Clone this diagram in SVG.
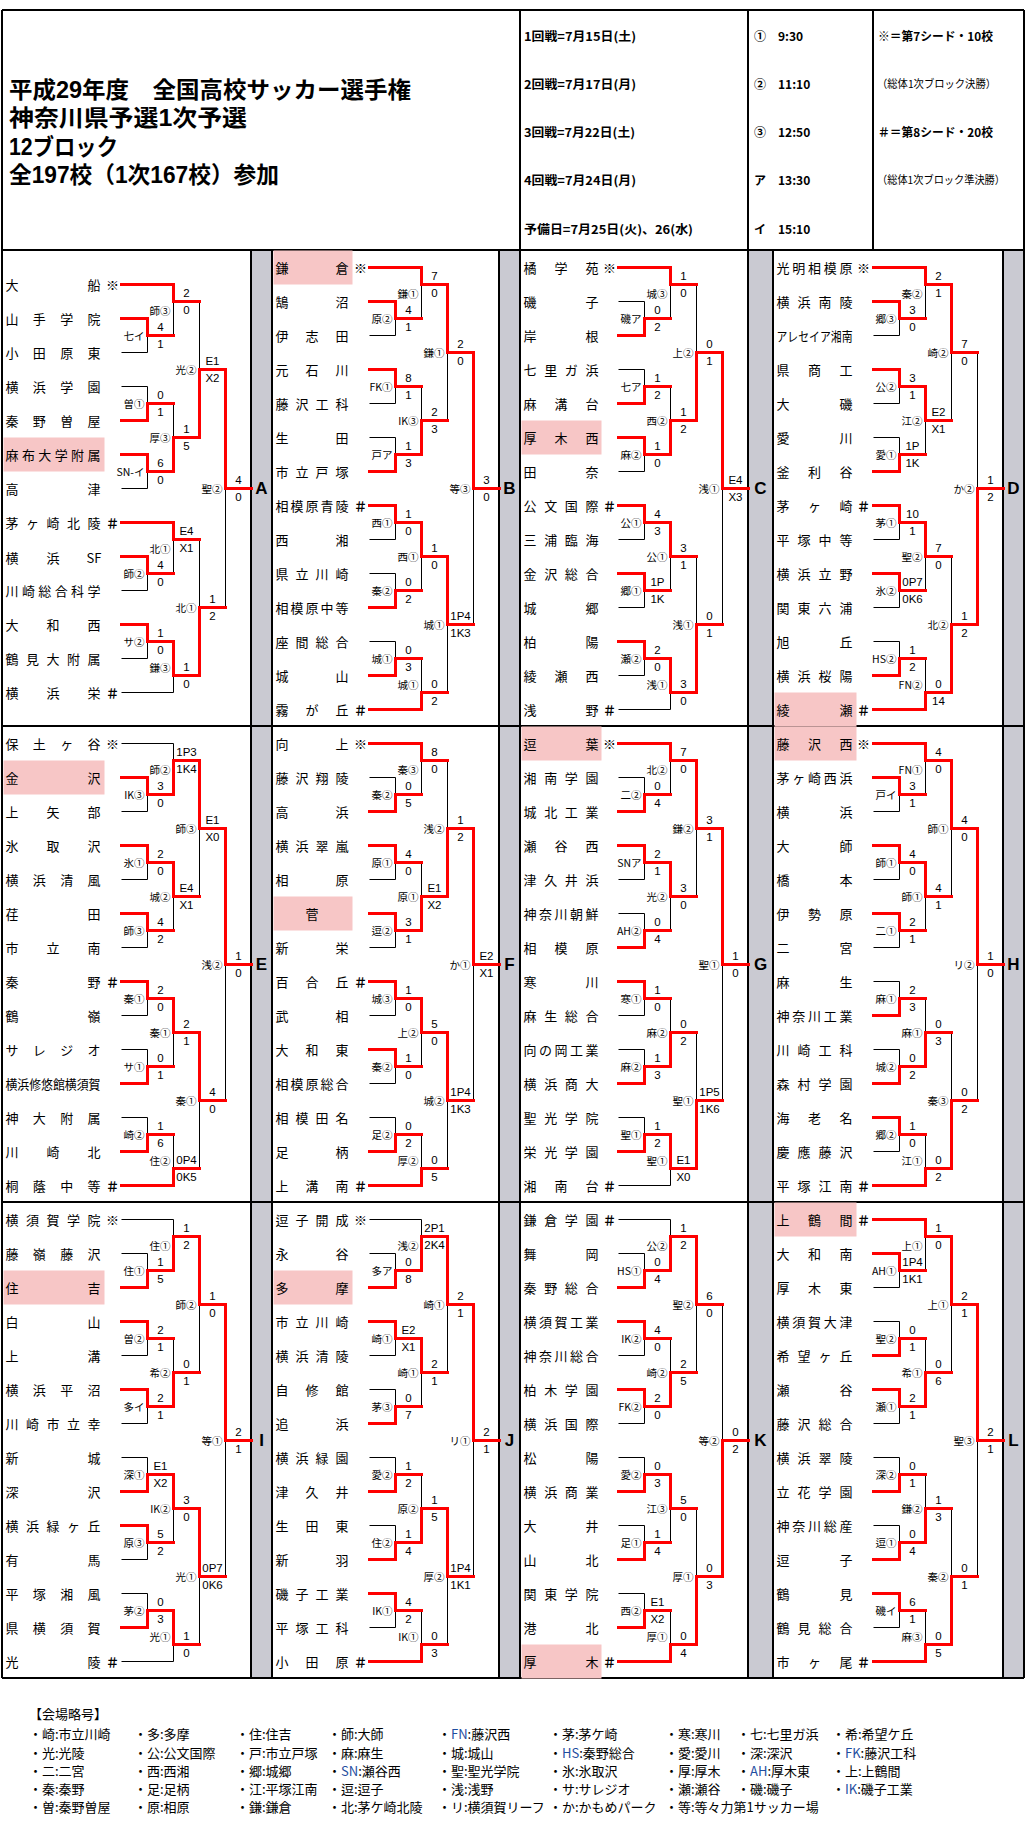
<svg xmlns="http://www.w3.org/2000/svg" width="1026" height="1831" viewBox="0 0 1026 1831">
<style>
text{font-family:"Noto Sans CJK JP","Noto Sans CJK SC",sans-serif;fill:#000}
.nm text{font-size:13px;dominant-baseline:central}
.mk{font-size:13px;font-weight:bold;text-anchor:middle;dominant-baseline:central}
.sc text{font-family:"Liberation Sans","Noto Sans CJK JP",sans-serif;font-size:11.5px;text-anchor:middle;dominant-baseline:central}
.vn text{font-size:10.5px;text-anchor:end;dominant-baseline:central}
.bk{fill:none;stroke:#000;stroke-width:1}
.rd{fill:none;stroke:#f00;stroke-width:3;stroke-linecap:square}
.pk{fill:#f7c6c6}
.gr{fill:#cacad2}
.bd{fill:none;stroke:#000;stroke-width:2}
.lt{font-family:"Liberation Sans",sans-serif;font-size:17px;font-weight:bold;text-anchor:middle;dominant-baseline:central}
.ttl{font-family:"Liberation Sans","Noto Sans CJK JP",sans-serif;font-size:23px;font-weight:bold;dominant-baseline:central}
.hd{font-size:12px;font-weight:bold;dominant-baseline:central}
.hs{font-size:11px;dominant-baseline:central}
.lg text{font-size:13px;dominant-baseline:central}
.ab{fill:#1f4ea0}
</style>
<defs>
<path id="br14" d="M0 17H52M0 51H26M0 85H26M0 119H26M0 153H26M0 187H26M0 221H26M0 255H26M0 289H26M0 323H26M0 357H26M0 391H26M0 425H26M0 459H52M26 51V85M26 68H52M26 119V153M26 136H52M26 187V221M26 204H52M26 255V289M26 272H52M26 323V357M26 340H52M26 391V425M26 408H52M52 17V68M52 34H78M52 136V204M52 170H78M52 272V340M52 306H78M52 408V459M52 442H78M78 34V170M78 102H104M78 306V442M78 374H104M104 102V374M104 238H130"/>
</defs>
<rect width="1026" height="1831" fill="#fff"/>

<g id="grid">
<rect class="gr" x="251" y="250" width="21" height="1428"/>
<rect class="gr" x="499" y="250" width="21" height="1428"/>
<rect class="gr" x="748" y="250" width="25" height="1428"/>
<rect class="gr" x="1003" y="250" width="21" height="1428"/>
<path class="bd" d="M2 10H1024M2 250H1024M2 726H1024M2 1202H1024M2 1678H1024M2 10V1678M1024 10V1678M251 250V1678M272 250V1678M499 250V1678M520 10V1678M748 10V1678M773 250V1678M1003 250V1678M873 10V250"/>
<text class="lt" x="261.5" y="488">A</text>
<text class="lt" x="509.5" y="488">B</text>
<text class="lt" x="760.5" y="488">C</text>
<text class="lt" x="1013.5" y="488">D</text>
<text class="lt" x="261.5" y="964">E</text>
<text class="lt" x="509.5" y="964">F</text>
<text class="lt" x="760.5" y="964">G</text>
<text class="lt" x="1013.5" y="964">H</text>
<text class="lt" x="261.5" y="1440">I</text>
<text class="lt" x="509.5" y="1440">J</text>
<text class="lt" x="760.5" y="1440">K</text>
<text class="lt" x="1013.5" y="1440">L</text>
</g>

<g id="header">
<text class="ttl" x="9" y="90" textLength="402" lengthAdjust="spacingAndGlyphs">平成29年度　全国高校サッカー選手権</text>
<text class="ttl" x="9" y="118" textLength="238" lengthAdjust="spacingAndGlyphs">神奈川県予選1次予選</text>
<text class="ttl" x="9" y="147" textLength="109" lengthAdjust="spacingAndGlyphs">12ブロック</text>
<text class="ttl" x="9" y="175" textLength="270" lengthAdjust="spacingAndGlyphs">全197校（1次167校）参加</text>
<text class="hd" x="524" y="35" textLength="112" lengthAdjust="spacingAndGlyphs">1回戦=7月15日(土)</text>
<text class="hd" x="524" y="83" textLength="112" lengthAdjust="spacingAndGlyphs">2回戦=7月17日(月)</text>
<text class="hd" x="524" y="131" textLength="111" lengthAdjust="spacingAndGlyphs">3回戦=7月22日(土)</text>
<text class="hd" x="524" y="179" textLength="112" lengthAdjust="spacingAndGlyphs">4回戦=7月24日(月)</text>
<text class="hd" x="524" y="228" textLength="169" lengthAdjust="spacingAndGlyphs">予備日=7月25日(火)、26(水)</text>
<text class="hd" x="754" y="35">①</text><text class="hd" x="778" y="35">9:30</text>
<text class="hd" x="754" y="83">②</text><text class="hd" x="778" y="83">11:10</text>
<text class="hd" x="754" y="131">③</text><text class="hd" x="778" y="131">12:50</text>
<text class="hd" x="754" y="179">ア</text><text class="hd" x="778" y="179">13:30</text>
<text class="hd" x="754" y="228">イ</text><text class="hd" x="778" y="228">15:10</text>
<text class="hd" x="878" y="35" textLength="115" lengthAdjust="spacingAndGlyphs">※＝第7シード・10校</text>
<text class="hs" x="877" y="83" textLength="119" lengthAdjust="spacingAndGlyphs">（総体1次ブロック決勝）</text>
<text class="hd" x="878" y="131" textLength="115" lengthAdjust="spacingAndGlyphs">＃＝第8シード・20校</text>
<text class="hs" x="877" y="179" textLength="128" lengthAdjust="spacingAndGlyphs">（総体1次ブロック準決勝）</text>
</g>

<!-- Block A -->
<g id="block-A" transform="translate(121.5 250.5)">
<rect class="pk" x="-118" y="187" width="101" height="34"/>
<g class="nm">
<text x="-116" y="34" textLength="95">大船</text>
<text x="-116" y="68" textLength="95">山手学院</text>
<text x="-116" y="102" textLength="95">小田原東</text>
<text x="-116" y="136" textLength="95">横浜学園</text>
<text x="-116" y="170" textLength="95">秦野曽屋</text>
<text x="-116" y="204" textLength="95">麻布大学附属</text>
<text x="-116" y="238" textLength="95">高津</text>
<text x="-116" y="272" textLength="95">茅ヶ崎北陵</text>
<text y="306"><tspan x="-116">横</tspan><tspan x="-75">浜</tspan><tspan x="-35">SF</tspan></text>
<text x="-116" y="340" textLength="95">川崎総合科学</text>
<text x="-116" y="374" textLength="95">大和西</text>
<text x="-116" y="408" textLength="95">鶴見大附属</text>
<text x="-116" y="442" textLength="95">横浜栄</text>
</g>
<text class="mk" x="-9" y="34">※</text><text class="mk" x="-9" y="272">＃</text><text class="mk" x="-9" y="442">＃</text>
<g id="connectors-A">
<path class="bk" d="M0 34H52M0 68H26M0 102H26M0 136H26M0 170H26M0 204H26M0 238H26M0 272H52M0 306H26M0 340H26M0 374H26M0 408H26M0 442H52M26 68V102M26 85H52M26 136V170M26 153H52M26 204V238M26 221H52M26 306V340M26 323H52M26 374V408M26 391H52M52 34V85M52 51H78M52 153V221M52 187H78M52 272V323M52 289H78M52 391V442M52 425H78M78 51V187M78 119H104M78 289V425M78 357H104M104 119V357M104 238H130"/>
<path class="rd" d="M0 34H52V51H78M0 68H26V85H52M0 170H26V153H52M0 204H26V221H52V187H78V119H104V238H130M0 272H52V289H78M0 306H26V323H52M0 374H26V391H52V425H78V357H104"/>
</g>
<g class="sc">
<text x="39" y="76.5">4</text><text x="39" y="93.5">1</text>
<text x="65" y="42.5">2</text><text x="65" y="59.5">0</text>
<text x="39" y="144.5">0</text><text x="39" y="161.5">1</text>
<text x="39" y="212.5">6</text><text x="39" y="229.5">0</text>
<text x="65" y="178.5">1</text><text x="65" y="195.5">5</text>
<text x="91" y="110.5">E1</text><text x="91" y="127.5">X2</text>
<text x="65" y="280.5">E4</text><text x="65" y="297.5">X1</text>
<text x="39" y="314.5">4</text><text x="39" y="331.5">0</text>
<text x="39" y="382.5">1</text><text x="39" y="399.5">0</text>
<text x="65" y="416.5">1</text><text x="65" y="433.5">0</text>
<text x="91" y="348.5">1</text><text x="91" y="365.5">2</text>
<text x="117" y="229.5">4</text><text x="117" y="246.5">0</text>
</g>
<g class="vn">
<text x="23" y="85">七イ</text>
<text x="49" y="59.5">師③</text>
<text x="23" y="153">曽①</text>
<text x="23" y="221">SN-イ</text>
<text x="49" y="187">厚③</text>
<text x="75" y="119">光②</text>
<text x="49" y="297.5">北①</text>
<text x="23" y="323">師②</text>
<text x="23" y="391">サ②</text>
<text x="49" y="416.5">鎌③</text>
<text x="75" y="357">北①</text>
<text x="101" y="238">聖②</text>
</g>
</g>

<!-- Block B -->
<g id="block-B" transform="translate(369.5 250.5)">
<rect class="pk" x="-96" y="0" width="79" height="34"/>
<g class="nm">
<text x="-94" y="17" textLength="73">鎌倉</text>
<text x="-94" y="51" textLength="73">鵠沼</text>
<text x="-94" y="85" textLength="73">伊志田</text>
<text x="-94" y="119" textLength="73">元石川</text>
<text x="-94" y="153" textLength="73">藤沢工科</text>
<text x="-94" y="187" textLength="73">生田</text>
<text x="-94" y="221" textLength="73">市立戸塚</text>
<text x="-94" y="255" textLength="73">相模原青陵</text>
<text x="-94" y="289" textLength="73">西湘</text>
<text x="-94" y="323" textLength="73">県立川崎</text>
<text x="-94" y="357" textLength="73">相模原中等</text>
<text x="-94" y="391" textLength="73">座間総合</text>
<text x="-94" y="425" textLength="73">城山</text>
<text x="-94" y="459" textLength="73">霧が丘</text>
</g>
<text class="mk" x="-9" y="17">※</text><text class="mk" x="-9" y="255">＃</text><text class="mk" x="-9" y="459">＃</text>
<g id="connectors-B">
<use href="#br14" class="bk"/>
<path class="rd" d="M0 17H52V34H78V102H104V238H130M0 51H26V68H52M0 119H26V136H52M0 221H26V204H52V170H78M0 255H26V272H52V306H78V374H104M0 357H26V340H52M0 425H26V408H52M0 459H52V442H78"/>
</g>
<g class="sc">
<text x="65" y="25.5">7</text><text x="65" y="42.5">0</text>
<text x="39" y="59.5">4</text><text x="39" y="76.5">1</text>
<text x="39" y="127.5">8</text><text x="39" y="144.5">1</text>
<text x="39" y="195.5">1</text><text x="39" y="212.5">3</text>
<text x="65" y="161.5">2</text><text x="65" y="178.5">3</text>
<text x="91" y="93.5">2</text><text x="91" y="110.5">0</text>
<text x="39" y="263.5">1</text><text x="39" y="280.5">0</text>
<text x="39" y="331.5">0</text><text x="39" y="348.5">2</text>
<text x="65" y="297.5">1</text><text x="65" y="314.5">0</text>
<text x="39" y="399.5">0</text><text x="39" y="416.5">3</text>
<text x="65" y="433.5">0</text><text x="65" y="450.5">2</text>
<text x="91" y="365.5">1P4</text><text x="91" y="382.5">1K3</text>
<text x="117" y="229.5">3</text><text x="117" y="246.5">0</text>
</g>
<g class="vn">
<text x="49" y="42.5">鎌①</text><text x="23" y="68">原②</text><text x="23" y="136">FK①</text><text x="23" y="204">戸ア</text><text x="49" y="170">IK③</text><text x="75" y="102">鎌①</text><text x="23" y="272">西①</text><text x="23" y="340">秦②</text><text x="49" y="306">西①</text><text x="23" y="408">城①</text><text x="49" y="433.5">城①</text><text x="75" y="374">城①</text><text x="101" y="238">等③</text>
</g>
</g>

<!-- Block C -->
<g id="block-C" transform="translate(618.5 250.5)">
<rect class="pk" x="-97" y="170" width="80" height="34"/>
<g class="nm">
<text x="-95" y="17" textLength="75">橘学苑</text>
<text x="-95" y="51" textLength="75">磯子</text>
<text x="-95" y="85" textLength="75">岸根</text>
<text x="-95" y="119" textLength="75">七里ガ浜</text>
<text x="-95" y="153" textLength="75">麻溝台</text>
<text x="-95" y="187" textLength="75">厚木西</text>
<text x="-95" y="221" textLength="75">田奈</text>
<text x="-95" y="255" textLength="75">公文国際</text>
<text x="-95" y="289" textLength="75">三浦臨海</text>
<text x="-95" y="323" textLength="75">金沢総合</text>
<text x="-95" y="357" textLength="75">城郷</text>
<text x="-95" y="391" textLength="75">柏陽</text>
<text x="-95" y="425" textLength="75">綾瀬西</text>
<text x="-95" y="459" textLength="75">浅野</text>
</g>
<text class="mk" x="-9" y="17">※</text><text class="mk" x="-9" y="255">＃</text><text class="mk" x="-9" y="459">＃</text>
<g id="connectors-C">
<use href="#br14" class="bk"/>
<path class="rd" d="M0 17H52V34H78M0 85H26V68H52M0 153H26V136H52M0 187H26V204H52V170H78V102H104V238H130M0 255H26V272H52V306H78M0 323H26V340H52M0 391H26V408H52V442H78V374H104"/>
</g>
<g class="sc">
<text x="65" y="25.5">1</text><text x="65" y="42.5">0</text>
<text x="39" y="59.5">0</text><text x="39" y="76.5">2</text>
<text x="39" y="127.5">1</text><text x="39" y="144.5">2</text>
<text x="39" y="195.5">1</text><text x="39" y="212.5">0</text>
<text x="65" y="161.5">1</text><text x="65" y="178.5">2</text>
<text x="91" y="93.5">0</text><text x="91" y="110.5">1</text>
<text x="39" y="263.5">4</text><text x="39" y="280.5">3</text>
<text x="39" y="331.5">1P</text><text x="39" y="348.5">1K</text>
<text x="65" y="297.5">3</text><text x="65" y="314.5">1</text>
<text x="39" y="399.5">2</text><text x="39" y="416.5">0</text>
<text x="65" y="433.5">3</text><text x="65" y="450.5">0</text>
<text x="91" y="365.5">0</text><text x="91" y="382.5">1</text>
<text x="117" y="229.5">E4</text><text x="117" y="246.5">X3</text>
</g>
<g class="vn">
<text x="49" y="42.5">城③</text><text x="23" y="68">磯ア</text><text x="23" y="136">七ア</text><text x="23" y="204">麻②</text><text x="49" y="170">西②</text><text x="75" y="102">上②</text><text x="23" y="272">公①</text><text x="23" y="340">郷①</text><text x="49" y="306">公①</text><text x="23" y="408">瀬②</text><text x="49" y="433.5">浅①</text><text x="75" y="374">浅①</text><text x="101" y="238">浅①</text>
</g>
</g>

<!-- Block D -->
<g id="block-D" transform="translate(873.5 250.5)">
<rect class="pk" x="-99" y="442" width="82" height="34"/>
<g class="nm">
<text x="-97" y="17" textLength="76">光明相模原</text>
<text x="-97" y="51" textLength="76">横浜南陵</text>
<text x="-97" y="85" textLength="76" lengthAdjust="spacingAndGlyphs">アレセイア湘南</text>
<text x="-97" y="119" textLength="76">県商工</text>
<text x="-97" y="153" textLength="76">大磯</text>
<text x="-97" y="187" textLength="76">愛川</text>
<text x="-97" y="221" textLength="76">釜利谷</text>
<text x="-97" y="255" textLength="76">茅ヶ崎</text>
<text x="-97" y="289" textLength="76">平塚中等</text>
<text x="-97" y="323" textLength="76">横浜立野</text>
<text x="-97" y="357" textLength="76">関東六浦</text>
<text x="-97" y="391" textLength="76">旭丘</text>
<text x="-97" y="425" textLength="76">横浜桜陽</text>
<text x="-97" y="459" textLength="76">綾瀬</text>
</g>
<text class="mk" x="-10" y="17">※</text><text class="mk" x="-10" y="255">＃</text><text class="mk" x="-10" y="459">＃</text>
<g id="connectors-D">
<use href="#br14" class="bk"/>
<path class="rd" d="M0 17H52V34H78V102H104M0 51H26V68H52M0 119H26V136H52V170H78M0 221H26V204H52M0 255H26V272H52V306H78M0 323H26V340H52M0 425H26V408H52M0 459H52V442H78V374H104V238H130"/>
</g>
<g class="sc">
<text x="65" y="25.5">2</text><text x="65" y="42.5">1</text>
<text x="39" y="59.5">3</text><text x="39" y="76.5">0</text>
<text x="39" y="127.5">3</text><text x="39" y="144.5">1</text>
<text x="39" y="195.5">1P</text><text x="39" y="212.5">1K</text>
<text x="65" y="161.5">E2</text><text x="65" y="178.5">X1</text>
<text x="91" y="93.5">7</text><text x="91" y="110.5">0</text>
<text x="39" y="263.5">10</text><text x="39" y="280.5">1</text>
<text x="39" y="331.5">0P7</text><text x="39" y="348.5">0K6</text>
<text x="65" y="297.5">7</text><text x="65" y="314.5">0</text>
<text x="39" y="399.5">1</text><text x="39" y="416.5">2</text>
<text x="65" y="433.5">0</text><text x="65" y="450.5">14</text>
<text x="91" y="365.5">1</text><text x="91" y="382.5">2</text>
<text x="117" y="229.5">1</text><text x="117" y="246.5">2</text>
</g>
<g class="vn">
<text x="49" y="42.5">秦②</text><text x="23" y="68">郷③</text><text x="23" y="136">公②</text><text x="23" y="204">愛①</text><text x="49" y="170">江②</text><text x="75" y="102">崎②</text><text x="23" y="272">茅①</text><text x="23" y="340">氷②</text><text x="49" y="306">聖②</text><text x="23" y="408">HS②</text><text x="49" y="433.5">FN②</text><text x="75" y="374">北②</text><text x="101" y="238">か②</text>
</g>
</g>

<!-- Block E -->
<g id="block-E" transform="translate(121.5 726.5)">
<rect class="pk" x="-118" y="34" width="101" height="34"/>
<g class="nm">
<text x="-116" y="17" textLength="95">保土ヶ谷</text>
<text x="-116" y="51" textLength="95">金沢</text>
<text x="-116" y="85" textLength="95">上矢部</text>
<text x="-116" y="119" textLength="95">氷取沢</text>
<text x="-116" y="153" textLength="95">横浜清風</text>
<text x="-116" y="187" textLength="95">荏田</text>
<text x="-116" y="221" textLength="95">市立南</text>
<text x="-116" y="255" textLength="95">秦野</text>
<text x="-116" y="289" textLength="95">鶴嶺</text>
<text x="-116" y="323" textLength="95">サレジオ</text>
<text x="-116" y="357" textLength="95" lengthAdjust="spacingAndGlyphs">横浜修悠館横須賀</text>
<text x="-116" y="391" textLength="95">神大附属</text>
<text x="-116" y="425" textLength="95">川崎北</text>
<text x="-116" y="459" textLength="95">桐蔭中等</text>
</g>
<text class="mk" x="-9" y="17">※</text><text class="mk" x="-9" y="255">＃</text><text class="mk" x="-9" y="459">＃</text>
<g id="connectors-E">
<use href="#br14" class="bk"/>
<path class="rd" d="M0 51H26V68H52V34H78V102H104V238H130M0 119H26V136H52V170H78M0 187H26V204H52M0 255H26V272H52V306H78V374H104M0 357H26V340H52M0 425H26V408H52M0 459H52V442H78"/>
</g>
<g class="sc">
<text x="65" y="25.5">1P3</text><text x="65" y="42.5">1K4</text>
<text x="39" y="59.5">3</text><text x="39" y="76.5">0</text>
<text x="39" y="127.5">2</text><text x="39" y="144.5">0</text>
<text x="39" y="195.5">4</text><text x="39" y="212.5">2</text>
<text x="65" y="161.5">E4</text><text x="65" y="178.5">X1</text>
<text x="91" y="93.5">E1</text><text x="91" y="110.5">X0</text>
<text x="39" y="263.5">2</text><text x="39" y="280.5">0</text>
<text x="39" y="331.5">0</text><text x="39" y="348.5">1</text>
<text x="65" y="297.5">2</text><text x="65" y="314.5">1</text>
<text x="39" y="399.5">1</text><text x="39" y="416.5">6</text>
<text x="65" y="433.5">0P4</text><text x="65" y="450.5">0K5</text>
<text x="91" y="365.5">4</text><text x="91" y="382.5">0</text>
<text x="117" y="229.5">1</text><text x="117" y="246.5">0</text>
</g>
<g class="vn">
<text x="49" y="42.5">師②</text><text x="23" y="68">IK③</text><text x="23" y="136">氷①</text><text x="23" y="204">師③</text><text x="49" y="170">城②</text><text x="75" y="102">師③</text><text x="23" y="272">秦①</text><text x="23" y="340">サ①</text><text x="49" y="306">秦①</text><text x="23" y="408">崎②</text><text x="49" y="433.5">住②</text><text x="75" y="374">秦①</text><text x="101" y="238">浅②</text>
</g>
</g>

<!-- Block F -->
<g id="block-F" transform="translate(369.5 726.5)">
<rect class="pk" x="-96" y="170" width="79" height="34"/>
<g class="nm">
<text x="-94" y="17" textLength="73">向上</text>
<text x="-94" y="51" textLength="73">藤沢翔陵</text>
<text x="-94" y="85" textLength="73">高浜</text>
<text x="-94" y="119" textLength="73">横浜翠嵐</text>
<text x="-94" y="153" textLength="73">相原</text>
<text x="-57.5" y="187" text-anchor="middle">菅</text>
<text x="-94" y="221" textLength="73">新栄</text>
<text x="-94" y="255" textLength="73">百合丘</text>
<text x="-94" y="289" textLength="73">武相</text>
<text x="-94" y="323" textLength="73">大和東</text>
<text x="-94" y="357" textLength="73">相模原総合</text>
<text x="-94" y="391" textLength="73">相模田名</text>
<text x="-94" y="425" textLength="73">足柄</text>
<text x="-94" y="459" textLength="73">上溝南</text>
</g>
<text class="mk" x="-9" y="17">※</text><text class="mk" x="-9" y="255">＃</text><text class="mk" x="-9" y="459">＃</text>
<g id="connectors-F">
<use href="#br14" class="bk"/>
<path class="rd" d="M0 17H52V34H78M0 85H26V68H52M0 119H26V136H52M0 187H26V204H52V170H78V102H104V238H130M0 255H26V272H52V306H78V374H104M0 323H26V340H52M0 425H26V408H52M0 459H52V442H78"/>
</g>
<g class="sc">
<text x="65" y="25.5">8</text><text x="65" y="42.5">0</text>
<text x="39" y="59.5">0</text><text x="39" y="76.5">5</text>
<text x="39" y="127.5">4</text><text x="39" y="144.5">0</text>
<text x="39" y="195.5">3</text><text x="39" y="212.5">1</text>
<text x="65" y="161.5">E1</text><text x="65" y="178.5">X2</text>
<text x="91" y="93.5">1</text><text x="91" y="110.5">2</text>
<text x="39" y="263.5">1</text><text x="39" y="280.5">0</text>
<text x="39" y="331.5">1</text><text x="39" y="348.5">0</text>
<text x="65" y="297.5">5</text><text x="65" y="314.5">0</text>
<text x="39" y="399.5">0</text><text x="39" y="416.5">2</text>
<text x="65" y="433.5">0</text><text x="65" y="450.5">5</text>
<text x="91" y="365.5">1P4</text><text x="91" y="382.5">1K3</text>
<text x="117" y="229.5">E2</text><text x="117" y="246.5">X1</text>
</g>
<g class="vn">
<text x="49" y="42.5">秦③</text><text x="23" y="68">秦②</text><text x="23" y="136">原①</text><text x="23" y="204">逗②</text><text x="49" y="170">原①</text><text x="75" y="102">浅②</text><text x="23" y="272">城③</text><text x="23" y="340">秦②</text><text x="49" y="306">上②</text><text x="23" y="408">足②</text><text x="49" y="433.5">厚②</text><text x="75" y="374">城②</text><text x="101" y="238">か①</text>
</g>
</g>

<!-- Block G -->
<g id="block-G" transform="translate(618.5 726.5)">
<rect class="pk" x="-97" y="0" width="80" height="34"/>
<g class="nm">
<text x="-95" y="17" textLength="75">逗葉</text>
<text x="-95" y="51" textLength="75">湘南学園</text>
<text x="-95" y="85" textLength="75">城北工業</text>
<text x="-95" y="119" textLength="75">瀬谷西</text>
<text x="-95" y="153" textLength="75">津久井浜</text>
<text x="-95" y="187" textLength="75">神奈川朝鮮</text>
<text x="-95" y="221" textLength="75">相模原</text>
<text x="-95" y="255" textLength="75">寒川</text>
<text x="-95" y="289" textLength="75">麻生総合</text>
<text x="-95" y="323" textLength="75">向の岡工業</text>
<text x="-95" y="357" textLength="75">横浜商大</text>
<text x="-95" y="391" textLength="75">聖光学院</text>
<text x="-95" y="425" textLength="75">栄光学園</text>
<text x="-95" y="459" textLength="75">湘南台</text>
</g>
<text class="mk" x="-9" y="17">※</text><text class="mk" x="-9" y="459">＃</text>
<g id="connectors-G">
<use href="#br14" class="bk"/>
<path class="rd" d="M0 17H52V34H78V102H104V238H130M0 85H26V68H52M0 119H26V136H52V170H78M0 221H26V204H52M0 255H26V272H52M0 357H26V340H52V306H78M0 425H26V408H52V442H78V374H104"/>
</g>
<g class="sc">
<text x="65" y="25.5">7</text><text x="65" y="42.5">0</text>
<text x="39" y="59.5">0</text><text x="39" y="76.5">4</text>
<text x="39" y="127.5">2</text><text x="39" y="144.5">1</text>
<text x="39" y="195.5">0</text><text x="39" y="212.5">4</text>
<text x="65" y="161.5">3</text><text x="65" y="178.5">0</text>
<text x="91" y="93.5">3</text><text x="91" y="110.5">1</text>
<text x="39" y="263.5">1</text><text x="39" y="280.5">0</text>
<text x="39" y="331.5">1</text><text x="39" y="348.5">3</text>
<text x="65" y="297.5">0</text><text x="65" y="314.5">2</text>
<text x="39" y="399.5">1</text><text x="39" y="416.5">2</text>
<text x="65" y="433.5">E1</text><text x="65" y="450.5">X0</text>
<text x="91" y="365.5">1P5</text><text x="91" y="382.5">1K6</text>
<text x="117" y="229.5">1</text><text x="117" y="246.5">0</text>
</g>
<g class="vn">
<text x="49" y="42.5">北②</text><text x="23" y="68">二②</text><text x="23" y="136">SNア</text><text x="23" y="204">AH②</text><text x="49" y="170">光②</text><text x="75" y="102">鎌②</text><text x="23" y="272">寒①</text><text x="23" y="340">麻②</text><text x="49" y="306">麻②</text><text x="23" y="408">聖①</text><text x="49" y="433.5">聖①</text><text x="75" y="374">聖①</text><text x="101" y="238">聖①</text>
</g>
</g>

<!-- Block H -->
<g id="block-H" transform="translate(873.5 726.5)">
<rect class="pk" x="-99" y="0" width="82" height="34"/>
<g class="nm">
<text x="-97" y="17" textLength="76">藤沢西</text>
<text x="-97" y="51" textLength="76">茅ヶ崎西浜</text>
<text x="-97" y="85" textLength="76">横浜</text>
<text x="-97" y="119" textLength="76">大師</text>
<text x="-97" y="153" textLength="76">橋本</text>
<text x="-97" y="187" textLength="76">伊勢原</text>
<text x="-97" y="221" textLength="76">二宮</text>
<text x="-97" y="255" textLength="76">麻生</text>
<text x="-97" y="289" textLength="76">神奈川工業</text>
<text x="-97" y="323" textLength="76">川崎工科</text>
<text x="-97" y="357" textLength="76">森村学園</text>
<text x="-97" y="391" textLength="76">海老名</text>
<text x="-97" y="425" textLength="76">慶應藤沢</text>
<text x="-97" y="459" textLength="76">平塚江南</text>
</g>
<text class="mk" x="-10" y="17">※</text><text class="mk" x="-10" y="459">＃</text>
<g id="connectors-H">
<use href="#br14" class="bk"/>
<path class="rd" d="M0 17H52V34H78V102H104V238H130M0 51H26V68H52M0 119H26V136H52V170H78M0 187H26V204H52M0 289H26V272H52M0 357H26V340H52V306H78M0 391H26V408H52M0 459H52V442H78V374H104"/>
</g>
<g class="sc">
<text x="65" y="25.5">4</text><text x="65" y="42.5">0</text>
<text x="39" y="59.5">3</text><text x="39" y="76.5">1</text>
<text x="39" y="127.5">4</text><text x="39" y="144.5">0</text>
<text x="39" y="195.5">2</text><text x="39" y="212.5">1</text>
<text x="65" y="161.5">4</text><text x="65" y="178.5">1</text>
<text x="91" y="93.5">4</text><text x="91" y="110.5">0</text>
<text x="39" y="263.5">2</text><text x="39" y="280.5">3</text>
<text x="39" y="331.5">0</text><text x="39" y="348.5">2</text>
<text x="65" y="297.5">0</text><text x="65" y="314.5">3</text>
<text x="39" y="399.5">1</text><text x="39" y="416.5">0</text>
<text x="65" y="433.5">0</text><text x="65" y="450.5">2</text>
<text x="91" y="365.5">0</text><text x="91" y="382.5">2</text>
<text x="117" y="229.5">1</text><text x="117" y="246.5">0</text>
</g>
<g class="vn">
<text x="49" y="42.5">FN①</text><text x="23" y="68">戸イ</text><text x="23" y="136">師①</text><text x="23" y="204">二①</text><text x="49" y="170">師①</text><text x="75" y="102">師①</text><text x="23" y="272">麻①</text><text x="23" y="340">城②</text><text x="49" y="306">麻①</text><text x="23" y="408">郷②</text><text x="49" y="433.5">江①</text><text x="75" y="374">秦③</text><text x="101" y="238">リ②</text>
</g>
</g>

<!-- Block I -->
<g id="block-I" transform="translate(121.5 1202.5)">
<rect class="pk" x="-118" y="68" width="101" height="34"/>
<g class="nm">
<text x="-116" y="17" textLength="95">横須賀学院</text>
<text x="-116" y="51" textLength="95">藤嶺藤沢</text>
<text x="-116" y="85" textLength="95">住吉</text>
<text x="-116" y="119" textLength="95">白山</text>
<text x="-116" y="153" textLength="95">上溝</text>
<text x="-116" y="187" textLength="95">横浜平沼</text>
<text x="-116" y="221" textLength="95">川崎市立幸</text>
<text x="-116" y="255" textLength="95">新城</text>
<text x="-116" y="289" textLength="95">深沢</text>
<text x="-116" y="323" textLength="95">横浜緑ヶ丘</text>
<text x="-116" y="357" textLength="95">有馬</text>
<text x="-116" y="391" textLength="95">平塚湘風</text>
<text x="-116" y="425" textLength="95">県横須賀</text>
<text x="-116" y="459" textLength="95">光陵</text>
</g>
<text class="mk" x="-9" y="17">※</text><text class="mk" x="-9" y="459">＃</text>
<g id="connectors-I">
<use href="#br14" class="bk"/>
<path class="rd" d="M0 85H26V68H52V34H78V102H104V238H130M0 119H26V136H52M0 187H26V204H52V170H78M0 289H26V272H52V306H78V374H104M0 323H26V340H52M0 425H26V408H52V442H78"/>
</g>
<g class="sc">
<text x="65" y="25.5">1</text><text x="65" y="42.5">2</text>
<text x="39" y="59.5">1</text><text x="39" y="76.5">5</text>
<text x="39" y="127.5">2</text><text x="39" y="144.5">1</text>
<text x="39" y="195.5">2</text><text x="39" y="212.5">1</text>
<text x="65" y="161.5">0</text><text x="65" y="178.5">1</text>
<text x="91" y="93.5">1</text><text x="91" y="110.5">0</text>
<text x="39" y="263.5">E1</text><text x="39" y="280.5">X2</text>
<text x="39" y="331.5">5</text><text x="39" y="348.5">2</text>
<text x="65" y="297.5">3</text><text x="65" y="314.5">0</text>
<text x="39" y="399.5">0</text><text x="39" y="416.5">3</text>
<text x="65" y="433.5">1</text><text x="65" y="450.5">0</text>
<text x="91" y="365.5">0P7</text><text x="91" y="382.5">0K6</text>
<text x="117" y="229.5">2</text><text x="117" y="246.5">1</text>
</g>
<g class="vn">
<text x="49" y="42.5">住①</text><text x="23" y="68">住①</text><text x="23" y="136">曽②</text><text x="23" y="204">多イ</text><text x="49" y="170">希②</text><text x="75" y="102">師②</text><text x="23" y="272">深①</text><text x="23" y="340">原③</text><text x="49" y="306">IK②</text><text x="23" y="408">茅②</text><text x="49" y="433.5">光①</text><text x="75" y="374">光①</text><text x="101" y="238">等①</text>
</g>
</g>

<!-- Block J -->
<g id="block-J" transform="translate(369.5 1202.5)">
<rect class="pk" x="-96" y="68" width="79" height="34"/>
<g class="nm">
<text x="-94" y="17" textLength="73">逗子開成</text>
<text x="-94" y="51" textLength="73">永谷</text>
<text x="-94" y="85" textLength="73">多摩</text>
<text x="-94" y="119" textLength="73">市立川崎</text>
<text x="-94" y="153" textLength="73">横浜清陵</text>
<text x="-94" y="187" textLength="73">自修館</text>
<text x="-94" y="221" textLength="73">追浜</text>
<text x="-94" y="255" textLength="73">横浜緑園</text>
<text x="-94" y="289" textLength="73">津久井</text>
<text x="-94" y="323" textLength="73">生田東</text>
<text x="-94" y="357" textLength="73">新羽</text>
<text x="-94" y="391" textLength="73">磯子工業</text>
<text x="-94" y="425" textLength="73">平塚工科</text>
<text x="-94" y="459" textLength="73">小田原</text>
</g>
<text class="mk" x="-9" y="17">※</text><text class="mk" x="-9" y="459">＃</text>
<g id="connectors-J">
<use href="#br14" class="bk"/>
<path class="rd" d="M0 85H26V68H52V34H78V102H104V238H130M0 119H26V136H52V170H78M0 221H26V204H52M0 289H26V272H52M0 357H26V340H52V306H78V374H104M0 391H26V408H52M0 459H52V442H78"/>
</g>
<g class="sc">
<text x="65" y="25.5">2P1</text><text x="65" y="42.5">2K4</text>
<text x="39" y="59.5">0</text><text x="39" y="76.5">8</text>
<text x="39" y="127.5">E2</text><text x="39" y="144.5">X1</text>
<text x="39" y="195.5">0</text><text x="39" y="212.5">7</text>
<text x="65" y="161.5">2</text><text x="65" y="178.5">1</text>
<text x="91" y="93.5">2</text><text x="91" y="110.5">1</text>
<text x="39" y="263.5">1</text><text x="39" y="280.5">2</text>
<text x="39" y="331.5">1</text><text x="39" y="348.5">4</text>
<text x="65" y="297.5">1</text><text x="65" y="314.5">5</text>
<text x="39" y="399.5">4</text><text x="39" y="416.5">2</text>
<text x="65" y="433.5">0</text><text x="65" y="450.5">3</text>
<text x="91" y="365.5">1P4</text><text x="91" y="382.5">1K1</text>
<text x="117" y="229.5">2</text><text x="117" y="246.5">1</text>
</g>
<g class="vn">
<text x="49" y="42.5">浅②</text><text x="23" y="68">多ア</text><text x="23" y="136">崎①</text><text x="23" y="204">茅③</text><text x="49" y="170">崎①</text><text x="75" y="102">崎①</text><text x="23" y="272">愛②</text><text x="23" y="340">住②</text><text x="49" y="306">原②</text><text x="23" y="408">IK①</text><text x="49" y="433.5">IK①</text><text x="75" y="374">厚②</text><text x="101" y="238">リ①</text>
</g>
</g>

<!-- Block K -->
<g id="block-K" transform="translate(618.5 1202.5)">
<rect class="pk" x="-97" y="442" width="80" height="34"/>
<g class="nm">
<text x="-95" y="17" textLength="75">鎌倉学園</text>
<text x="-95" y="51" textLength="75">舞岡</text>
<text x="-95" y="85" textLength="75">秦野総合</text>
<text x="-95" y="119" textLength="75">横須賀工業</text>
<text x="-95" y="153" textLength="75">神奈川総合</text>
<text x="-95" y="187" textLength="75">柏木学園</text>
<text x="-95" y="221" textLength="75">横浜国際</text>
<text x="-95" y="255" textLength="75">松陽</text>
<text x="-95" y="289" textLength="75">横浜商業</text>
<text x="-95" y="323" textLength="75">大井</text>
<text x="-95" y="357" textLength="75">山北</text>
<text x="-95" y="391" textLength="75">関東学院</text>
<text x="-95" y="425" textLength="75">港北</text>
<text x="-95" y="459" textLength="75">厚木</text>
</g>
<text class="mk" x="-9" y="17">＃</text><text class="mk" x="-9" y="459">＃</text>
<g id="connectors-K">
<use href="#br14" class="bk"/>
<path class="rd" d="M0 85H26V68H52V34H78V102H104M0 119H26V136H52M0 187H26V204H52V170H78M0 289H26V272H52V306H78M0 357H26V340H52M0 425H26V408H52M0 459H52V442H78V374H104V238H130"/>
</g>
<g class="sc">
<text x="65" y="25.5">1</text><text x="65" y="42.5">2</text>
<text x="39" y="59.5">0</text><text x="39" y="76.5">4</text>
<text x="39" y="127.5">4</text><text x="39" y="144.5">0</text>
<text x="39" y="195.5">2</text><text x="39" y="212.5">0</text>
<text x="65" y="161.5">2</text><text x="65" y="178.5">5</text>
<text x="91" y="93.5">6</text><text x="91" y="110.5">0</text>
<text x="39" y="263.5">0</text><text x="39" y="280.5">3</text>
<text x="39" y="331.5">1</text><text x="39" y="348.5">4</text>
<text x="65" y="297.5">5</text><text x="65" y="314.5">0</text>
<text x="39" y="399.5">E1</text><text x="39" y="416.5">X2</text>
<text x="65" y="433.5">0</text><text x="65" y="450.5">4</text>
<text x="91" y="365.5">0</text><text x="91" y="382.5">3</text>
<text x="117" y="229.5">0</text><text x="117" y="246.5">2</text>
</g>
<g class="vn">
<text x="49" y="42.5">公②</text><text x="23" y="68">HS①</text><text x="23" y="136">IK②</text><text x="23" y="204">FK②</text><text x="49" y="170">崎②</text><text x="75" y="102">聖②</text><text x="23" y="272">愛②</text><text x="23" y="340">足①</text><text x="49" y="306">江③</text><text x="23" y="408">西②</text><text x="49" y="433.5">厚①</text><text x="75" y="374">厚①</text><text x="101" y="238">等②</text>
</g>
</g>

<!-- Block L -->
<g id="block-L" transform="translate(873.5 1202.5)">
<rect class="pk" x="-99" y="0" width="82" height="34"/>
<g class="nm">
<text x="-97" y="17" textLength="76">上鶴間</text>
<text x="-97" y="51" textLength="76">大和南</text>
<text x="-97" y="85" textLength="76">厚木東</text>
<text x="-97" y="119" textLength="76">横須賀大津</text>
<text x="-97" y="153" textLength="76">希望ヶ丘</text>
<text x="-97" y="187" textLength="76">瀬谷</text>
<text x="-97" y="221" textLength="76">藤沢総合</text>
<text x="-97" y="255" textLength="76">横浜翠陵</text>
<text x="-97" y="289" textLength="76">立花学園</text>
<text x="-97" y="323" textLength="76">神奈川総産</text>
<text x="-97" y="357" textLength="76">逗子</text>
<text x="-97" y="391" textLength="76">鶴見</text>
<text x="-97" y="425" textLength="76">鶴見総合</text>
<text x="-97" y="459" textLength="76">市ヶ尾</text>
</g>
<text class="mk" x="-10" y="17">＃</text><text class="mk" x="-10" y="459">＃</text>
<g id="connectors-L">
<use href="#br14" class="bk"/>
<path class="rd" d="M0 17H52V34H78V102H104V238H130M0 51H26V68H52M0 153H26V136H52M0 187H26V204H52V170H78M0 289H26V272H52M0 357H26V340H52V306H78M0 391H26V408H52M0 459H52V442H78V374H104"/>
</g>
<g class="sc">
<text x="65" y="25.5">1</text><text x="65" y="42.5">0</text>
<text x="39" y="59.5">1P4</text><text x="39" y="76.5">1K1</text>
<text x="39" y="127.5">0</text><text x="39" y="144.5">1</text>
<text x="39" y="195.5">2</text><text x="39" y="212.5">1</text>
<text x="65" y="161.5">0</text><text x="65" y="178.5">6</text>
<text x="91" y="93.5">2</text><text x="91" y="110.5">1</text>
<text x="39" y="263.5">0</text><text x="39" y="280.5">1</text>
<text x="39" y="331.5">0</text><text x="39" y="348.5">4</text>
<text x="65" y="297.5">1</text><text x="65" y="314.5">3</text>
<text x="39" y="399.5">6</text><text x="39" y="416.5">1</text>
<text x="65" y="433.5">0</text><text x="65" y="450.5">5</text>
<text x="91" y="365.5">0</text><text x="91" y="382.5">1</text>
<text x="117" y="229.5">2</text><text x="117" y="246.5">1</text>
</g>
<g class="vn">
<text x="49" y="42.5">上①</text><text x="23" y="68">AH①</text><text x="23" y="136">聖②</text><text x="23" y="204">瀬①</text><text x="49" y="170">希①</text><text x="75" y="102">上①</text><text x="23" y="272">深②</text><text x="23" y="340">逗①</text><text x="49" y="306">鎌②</text><text x="23" y="408">磯イ</text><text x="49" y="433.5">麻③</text><text x="75" y="374">秦②</text><text x="101" y="238">聖③</text>
</g>
</g>

<g id="legend" class="lg">
<text x="29" y="1713">【会場略号】</text>
<text x="29" y="1733">・崎:市立川崎</text>
<text x="29" y="1752">・光:光陵</text>
<text x="29" y="1770">・二:二宮</text>
<text x="29" y="1788">・秦:秦野</text>
<text x="29" y="1806">・曽:秦野曽屋</text>
<text x="134" y="1733">・多:多摩</text>
<text x="134" y="1752">・公:公文国際</text>
<text x="134" y="1770">・西:西湘</text>
<text x="134" y="1788">・足:足柄</text>
<text x="134" y="1806">・原:相原</text>
<text x="236" y="1733">・住:住吉</text>
<text x="236" y="1752">・戸:市立戸塚</text>
<text x="236" y="1770">・郷:城郷</text>
<text x="236" y="1788">・江:平塚江南</text>
<text x="236" y="1806">・鎌:鎌倉</text>
<text x="328" y="1733">・師:大師</text>
<text x="328" y="1752">・麻:麻生</text>
<text x="328" y="1770">・<tspan class="ab">SN</tspan>:瀬谷西</text>
<text x="328" y="1788">・逗:逗子</text>
<text x="328" y="1806">・北:茅ケ崎北陵</text>
<text x="438" y="1733">・<tspan class="ab">FN</tspan>:藤沢西</text>
<text x="438" y="1752">・城:城山</text>
<text x="438" y="1770">・聖:聖光学院</text>
<text x="438" y="1788">・浅:浅野</text>
<text x="438" y="1806">・リ:横須賀リーフ</text>
<text x="549" y="1733">・茅:茅ケ崎</text>
<text x="549" y="1752">・<tspan class="ab">HS</tspan>:秦野総合</text>
<text x="549" y="1770">・氷:氷取沢</text>
<text x="549" y="1788">・サ:サレジオ</text>
<text x="549" y="1806">・か:かもめパーク</text>
<text x="665" y="1733">・寒:寒川</text>
<text x="665" y="1752">・愛:愛川</text>
<text x="665" y="1770">・厚:厚木</text>
<text x="665" y="1788">・瀬:瀬谷</text>
<text x="665" y="1806">・等:等々力第1サッカー場</text>
<text x="737" y="1733">・七:七里ガ浜</text>
<text x="737" y="1752">・深:深沢</text>
<text x="737" y="1770">・<tspan class="ab">AH</tspan>:厚木東</text>
<text x="737" y="1788">・磯:磯子</text>
<text x="832" y="1733">・希:希望ケ丘</text>
<text x="832" y="1752">・<tspan class="ab">FK</tspan>:藤沢工科</text>
<text x="832" y="1770">・上:上鶴間</text>
<text x="832" y="1788">・<tspan class="ab">IK</tspan>:磯子工業</text>
</g>
</svg>
